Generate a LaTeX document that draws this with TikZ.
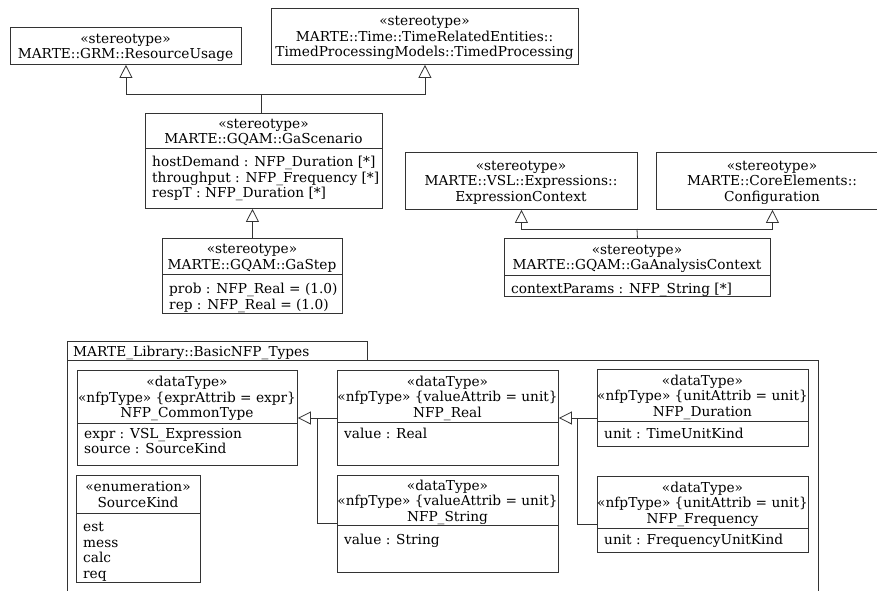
\documentclass[tikz,border=0pt]{standalone}
\usepackage{fontspec}
\setmainfont{DejaVu Serif}
\usetikzlibrary{arrows.meta}
\newcommand\umlfont{\fontsize{13.7}{15.5}\selectfont}
\tikzset{
  umlline/.style={draw=black!80, line width=0.9pt},
  boxshape/.style={umlline, rectangle, anchor=north west, inner sep=0pt, fill=white},
  hdrtext/.style={align=center, inner sep=0pt, font=\umlfont, execute at begin node=\strut, execute at end node=\strut},
  attrtext/.style={align=left, anchor=north west, inner sep=0pt, font=\umlfont, execute at begin node=\strut, execute at end node=\strut},
  gen/.style={draw=black!80, line width=0.8pt, -{Triangle[open, length=13pt, width=13pt]}},
  conn/.style={draw=black!80, line width=0.8pt},
}
% #1 name, #2 x, #3 y, #4 width, #5 header height, #6 total height, #7 header, #8 attributes, #9 attribute offset
\newcommand\umlclass[9]{%
  \node[boxshape, minimum width=#4pt, minimum height=#6pt] (#1) at (#2,#3) {};
  \node[hdrtext] (#1-h) at ({#2+#4/2},{#3+#5/2+3}) {#7};
  \draw[umlline] ({#2},{#3+#5}) -- ({#2+#4},{#3+#5});
  \node[attrtext] (#1-a) at ({#2+7},{#3+#5+#9}) {#8};
}
% #1 name, #2 x, #3 y, #4 width, #5 height, #6 text
\newcommand\umlhead[6]{%
  \node[boxshape, minimum width=#4pt, minimum height=#5pt] (#1) at (#2,#3) {};
  \node[hdrtext] (#1-h) at ({#2+#4/2},{#3+#5/2+3}) {#6};
}
\begin{document}
\begin{tikzpicture}[x=1pt, y=-1pt]
\useasboundingbox (0,0) rectangle (877,590);
\clip (0,0) rectangle (877,590);

% ---------- upper part ----------
\umlhead{ru}{10}{27}{231}{37}{«stereotype»\\MARTE::GRM::ResourceUsage}
\umlhead{tp}{271}{8}{307}{56}{«stereotype»\\MARTE::Time::TimeRelatedEntities::\\TimedProcessingModels::TimedProcessing}
\umlclass{sc}{145}{113}{237}{35}{95}{«stereotype»\\MARTE::GQAM::GaScenario}{hostDemand : NFP\_Duration [*]\\throughput : NFP\_Frequency [*]\\respT : NFP\_Duration [*]}{8}
\umlclass{gs}{162}{238}{180}{36}{75}{«stereotype»\\MARTE::GQAM::GaStep}{prob : NFP\_Real = (1.0)\\rep : NFP\_Real = (1.0)}{9}

\umlhead{ec}{405}{152}{232}{57}{«stereotype»\\MARTE::VSL::Expressions::\\ExpressionContext}
\umlhead{cf}{656}{152}{232}{57}{«stereotype»\\MARTE::CoreElements::\\Configuration}
\umlclass{ac}{504}{238}{266}{37}{58}{«stereotype»\\MARTE::GQAM::GaAnalysisContext}{contextParams : NFP\_String [*]}{7}

\coordinate (j1) at (261,94);
\draw[conn] (j1 |- sc.north) -- (j1);
\draw[gen] (j1) -| (ru.south);
\draw[gen] (j1) -| (tp.south);
\draw[gen] (gs.north) -- (gs.north |- sc.south);

\coordinate (j2) at (637,229);
\draw[conn] (ac.north) -- (j2);
\draw[gen] (j2) -| (ec.south);
\draw[gen] (j2) -| (cf.south);

% ---------- package ----------
\node[boxshape, minimum width=300pt, minimum height=20pt] (pkt) at (67,341) {};
\node[anchor=west, inner sep=0pt, font=\umlfont] (pkn) at (73,353) {MARTE\_Library::BasicNFP\_Types};
\node[boxshape, minimum width=751pt, minimum height=240pt] (pkb) at (67,360) {};

\umlclass{ct}{77}{370}{220}{53}{95}{«dataType»\\«nfpType» \{exprAttrib = expr\}\\NFP\_CommonType}{expr : VSL\_Expression\\source : SourceKind}{5}
\umlclass{sk}{76}{475}{124}{38}{107}{«enumeration»\\SourceKind}{est\\mess\\calc\\req}{9}
\umlclass{rl}{337}{370}{221}{52}{95}{«dataType»\\«nfpType» \{valueAttrib = unit\}\\NFP\_Real}{value : Real}{5}
\umlclass{st}{337}{475}{221}{50}{97}{«dataType»\\«nfpType» \{valueAttrib = unit\}\\NFP\_String}{value : String}{8}
\umlclass{du}{597}{369}{211}{52}{77}{«dataType»\\«nfpType» \{unitAttrib = unit\}\\NFP\_Duration}{unit : TimeUnitKind}{6}
\umlclass{fr}{597}{476}{211}{52}{76}{«dataType»\\«nfpType» \{unitAttrib = unit\}\\NFP\_Frequency}{unit : FrequencyUnitKind}{5}

\coordinate (j3) at (317,418);
\coordinate (j4) at (317,523);
\draw[gen] (rl.west |- j3) -- (ct.east |- j3);
\draw[conn] (st.west |- j4) -- (j4) -- (j3);
\coordinate (j5) at (577,418);
\coordinate (j6) at (577,524);
\draw[gen] (du.west |- j5) -- (rl.east |- j5);
\draw[conn] (fr.west |- j6) -- (j6) -- (j5);
\end{tikzpicture}
\end{document}
